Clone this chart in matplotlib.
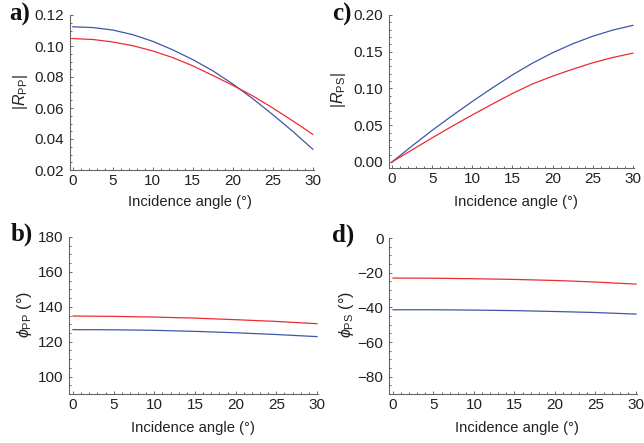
import matplotlib
matplotlib.use("Agg")
import matplotlib.pyplot as plt
from matplotlib.ticker import MultipleLocator, FormatStrFormatter, FuncFormatter

plt.rcParams["font.family"] = ["Liberation Sans", "DejaVu Sans"]
plt.rcParams["mathtext.fontset"] = "custom"
plt.rcParams["mathtext.rm"] = "Liberation Sans"
plt.rcParams["mathtext.it"] = "Liberation Sans:italic"

# ── data ─────────────────────────────────────────────────────────────────────
angle_fine = [0, 2.5, 5, 7.5, 10, 12.5, 15, 17.5, 20, 22.5, 25, 27.5, 30]
rpp_blue = [0.1124, 0.1119, 0.1103, 0.1073, 0.1030, 0.0975, 0.0912,
            0.0840, 0.0755, 0.0660, 0.0557, 0.0449, 0.0334]
rpp_red = [0.1048, 0.1042, 0.1026, 0.1002, 0.0968, 0.0925, 0.0872,
           0.0810, 0.0746, 0.0678, 0.0600, 0.0517, 0.0430]
rps_blue = [0.0, 0.0218, 0.0430, 0.0630, 0.0823, 0.1008, 0.1185,
            0.1345, 0.1486, 0.1608, 0.1711, 0.1795, 0.1859]
rps_red = [0.0, 0.0165, 0.0328, 0.0487, 0.0640, 0.0788, 0.0932,
           0.1062, 0.1168, 0.1262, 0.1350, 0.1422, 0.1481]

angle = [0, 5, 10, 15, 20, 25, 30]
phipp_red = [134.7, 134.5, 134.1, 133.5, 132.6, 131.6, 130.3]
phipp_blue = [126.9, 126.8, 126.5, 125.9, 125.1, 124.1, 122.9]
phips_red = [-23.1, -23.2, -23.5, -23.9, -24.5, -25.4, -26.6]
phips_blue = [-41.4, -41.4, -41.6, -41.9, -42.4, -43.0, -43.9]

BLUE = "#3c57a7"
RED = "#ee2b2f"
W, H = 644, 443


def px_axes(fig, left, top, right, bottom):
    return fig.add_axes([left / W, (H - bottom) / H, (right - left) / W, (bottom - top) / H])


def style(ax, ylim, ymaj, ymin_step, xlim):
    ax.set_xlim(*xlim)
    ax.set_ylim(*ylim)
    for s in ("top", "right"):
        ax.spines[s].set_visible(False)
    for s in ("left", "bottom"):
        ax.spines[s].set_color("#666666")
        ax.spines[s].set_linewidth(0.8)
    ax.xaxis.set_major_locator(MultipleLocator(5))
    ax.xaxis.set_minor_locator(MultipleLocator(1))
    ax.yaxis.set_major_locator(MultipleLocator(ymaj))
    ax.yaxis.set_minor_locator(MultipleLocator(ymin_step))
    ax.tick_params(which="both", direction="in", color="#666666", width=0.7,
                   labelsize=11, labelcolor="#222222")
    ax.tick_params(which="major", length=2.4)
    ax.tick_params(which="minor", length=1.4)
    ax.tick_params(axis="y", pad=4)
    ax.tick_params(axis="x", pad=3)


fig = plt.figure(figsize=(W / 100, H / 100), dpi=100)

# a) |R_PP|
ax = px_axes(fig, 70, 15, 313.6, 170)
ax.plot(angle_fine, rpp_blue, color=BLUE, lw=0.9)
ax.plot(angle_fine, rpp_red, color=RED, lw=0.9)
style(ax, (0.02, 0.12), 0.02, 0.005, (-0.35, 30.1))
ax.yaxis.set_major_formatter(FormatStrFormatter("%.2f"))

# c) |R_PS|
ax = px_axes(fig, 389, 15, 633.7, 168)
ax.plot(angle_fine, rps_blue, color=BLUE, lw=0.9)
ax.plot(angle_fine, rps_red, color=RED, lw=0.9)
style(ax, (-0.0082, 0.20), 0.05, 0.01, (-0.37, 30.1))
ax.yaxis.set_major_formatter(FormatStrFormatter("%.2f"))

# b) phi_PP
ax = px_axes(fig, 69, 237, 317.8, 394)
ax.plot(angle, phipp_red, color=RED, lw=0.9)
ax.plot(angle, phipp_blue, color=BLUE, lw=0.9)
style(ax, (90, 180), 20, 5, (-0.49, 30.1))

# d) phi_PS
ax = px_axes(fig, 389, 238, 636.8, 394)
ax.plot(angle, phips_red, color=RED, lw=0.9)
ax.plot(angle, phips_blue, color=BLUE, lw=0.9)
style(ax, (-90, 0), 20, 5, (-0.49, 30.1))
ax.yaxis.set_major_formatter(FuncFormatter(
    lambda v, p: f"\u2212{abs(int(v))}" if v < 0 else f"{int(v)}"))


def ftext(x, y, s, **kw):
    fig.text(x / W, 1 - y / H, s, ha="center", va="center", **kw)


lab_kw = dict(fontsize=10.6, color="#222222")
for x, y in [(190, 202), (516, 202), (193, 428), (517, 428)]:
    ftext(x, y, "Incidence angle (\u00b0)", **lab_kw)

ylab_kw = dict(fontsize=11.5, color="#222222", rotation=90)
ftext(21, 92, r"$|R_{\mathrm{PP}}|$", **ylab_kw)
ftext(339, 90, r"$|R_{\mathrm{PS}}|$", **ylab_kw)
ftext(24, 315, "$\\phi_{\\mathrm{PP}}$ (\u00b0)", **ylab_kw)
ftext(346, 315, "$\\phi_{\\mathrm{PS}}$ (\u00b0)", **ylab_kw)

pan_kw = dict(fontsize=18, fontweight="bold", family="Liberation Serif", color="#111111")
ftext(20, 14, "a)", **pan_kw)
ftext(342, 14, "c)", **pan_kw)
ftext(22, 234, "b)", **pan_kw)
ftext(343, 235, "d)", **pan_kw)

fig.savefig("out.png", dpi=100)
